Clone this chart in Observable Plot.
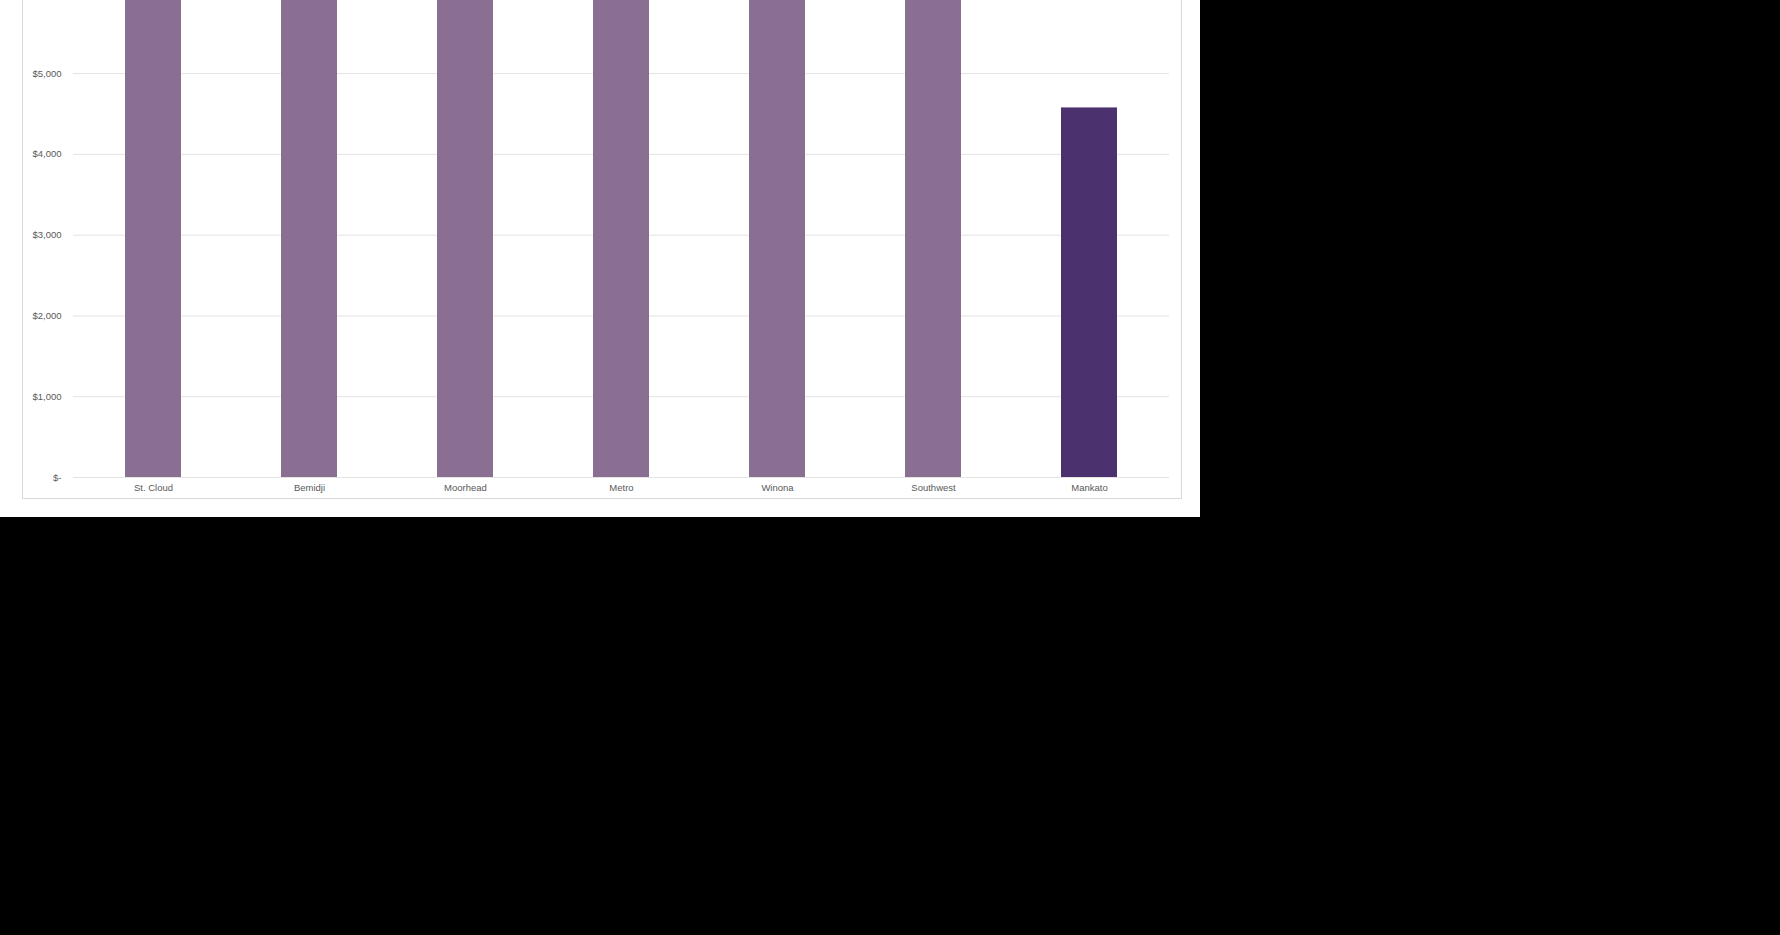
<!DOCTYPE html>
<html>
<head>
<meta charset="utf-8">
<script src="https://cdn.jsdelivr.net/npm/d3@7"></script>
<script src="https://cdn.jsdelivr.net/npm/@observablehq/plot@0.6"></script>
<style>
  html, body { margin: 0; padding: 0; background: #000; }
  #wrap { position: relative; width: 1200px; height: 517px; background: #fff; overflow: hidden; }
  #frame { position: absolute; left: 22px; top: -2px; width: 1160px; height: 501px; border: 1px solid #d9d9d9; box-sizing: border-box; pointer-events: none; }
  #chart { position: absolute; left: 0; top: 0; }
</style>
</head>
<body>
<div id="wrap"><div id="frame"></div><div id="chart"></div></div>
<script>
const campuses = ["St. Cloud", "Bemidji", "Moorhead", "Metro", "Winona", "Southwest", "Mankato"];
const costs = [6400, 6500, 6450, 6600, 6550, 6500, 4575];
const highlight = ["Mankato"];
const yTicks = [0, 1000, 2000, 3000, 4000, 5000];

const data = campuses.map((c, i) => ({campus: c, cost: costs[i], hl: highlight.includes(c)}));
const fmt = d => d === 0 ? "$-" : "$" + d3.format(",")(d);

const chart = Plot.plot({
  width: 1200,
  height: 517,
  marginLeft: 73,
  marginRight: 31,
  marginTop: 0,
  marginBottom: 40,
  style: {background: "transparent", fontFamily: "Liberation Sans, Arial, sans-serif", fontSize: "9.5px", color: "#595959"},
  x: {domain: campuses, paddingInner: 0.64, paddingOuter: 0.32, label: null, tickSize: 0, tickPadding: 7},
  y: {domain: [0, 5905], ticks: yTicks, tickFormat: fmt, label: null, tickSize: 0, tickPadding: 12},
  marks: [
    Plot.ruleY(yTicks, {stroke: "#e3e3e3", strokeWidth: 1}),
    Plot.barY(data, {x: "campus", y: "cost", fill: d => d.hl ? "#4b316d" : "#8a6f93", clip: true})
  ]
});
document.getElementById("chart").appendChild(chart);
</script>
</body>
</html>
